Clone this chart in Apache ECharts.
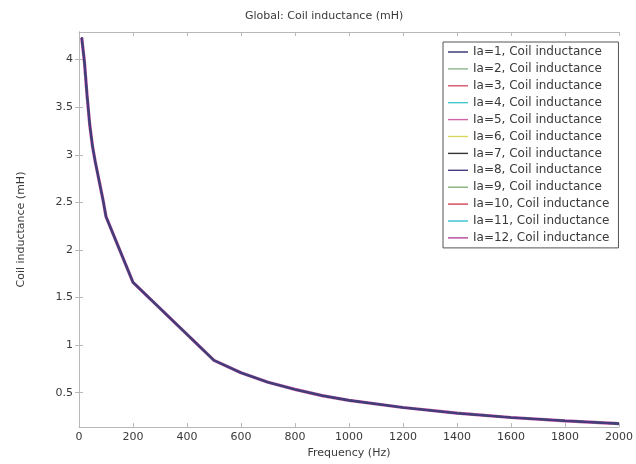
<!DOCTYPE html>
<html>
<head>
<meta charset="utf-8">
<script src="https://cdn.jsdelivr.net/npm/echarts@6/dist/echarts.min.js"></script>
<style>
  html, body { margin: 0; padding: 0; background: #fff; }
  #chart { width: 636px; height: 464px; }
</style>
</head>
<body>
<div id="chart"></div>
<script>
// Frequency sweep (Hz)
const frequency = [10, 20, 30, 40, 50, 60, 70, 80, 90, 100, 200, 500, 600, 700, 800, 900, 1000, 1200, 1400, 1600, 1800, 2000];
// Coil inductance (mH); the twelve current levels overlap on this curve
const coilInductance = [4.23, 3.98, 3.62, 3.31, 3.09, 2.93, 2.79, 2.65, 2.51, 2.35, 1.66, 0.84, 0.71, 0.61, 0.535, 0.47, 0.42, 0.345, 0.285, 0.24, 0.205, 0.175];
// Current levels
const currentLevels = [1, 2, 3, 4, 5, 6, 7, 8, 9, 10, 11, 12];
// Axis ticks
const yTicks = [0.5, 1, 1.5, 2, 2.5, 3, 3.5, 4];
const yRange = [0.139, 4.29];
const xRange = [0, 2000];
const xStep = 200;

// Line colours per current level
const lineColors = ['#2e2e6e', '#8fb48f', '#d2566a', '#48c8cc', '#d064a6', '#d8d65c',
                    '#333333', '#463a80', '#86b276', '#d24454', '#36c0d2', '#b2479a'];

const font = 'DejaVu Sans, sans-serif';
const axisGray = '#b8b8b8';
const textGray = '#3a3a3a';

const points = frequency.map((f, i) => [f, coilInductance[i]]);

const series = currentLevels.map((ia, k) => {
  let width = 1.6, z = 2;
  if (ia === 12) { width = 3.2; z = 1; }
  if (ia === 1 || ia === 7) { z = 3; }
  if (ia === 8) { width = 2; z = 4; }
  return {
    name: 'Ia=' + ia + ', Coil inductance',
    type: 'line',
    data: points,
    symbol: 'none',
    z: z,
    lineStyle: { width: width, color: lineColors[k] },
    itemStyle: { color: lineColors[k] },
    emphasis: { disabled: true },
    animation: false
  };
});

const chart = echarts.init(document.getElementById('chart'), null, { renderer: 'canvas' });
chart.setOption({
  backgroundColor: '#ffffff',
  animation: false,
  title: {
    text: 'Global: Coil inductance (mH)',
    left: 240,
    top: 6,
    textStyle: { fontFamily: font, fontSize: 11, fontWeight: 'normal', color: textGray }
  },
  legend: {
    orient: 'vertical',
    left: 443,
    top: 42,
    padding: [3, 9, 3, 5],
    icon: 'rect',
    itemWidth: 20,
    itemHeight: 1.4,
    itemGap: 2.9,
    borderColor: '#555',
    borderWidth: 1,
    backgroundColor: '#fff',
    textStyle: { fontFamily: font, fontSize: 12, lineHeight: 14, color: textGray },
    data: series.map(s => s.name)
  },
  grid: { left: 79, right: 16, top: 32, bottom: 29, containLabel: false },
  xAxis: [{
    type: 'value',
    position: 'bottom',
    min: xRange[0], max: xRange[1], interval: xStep,
    name: 'Frequency (Hz)',
    nameLocation: 'middle',
    nameGap: 16,
    nameTextStyle: { fontFamily: font, fontSize: 11, color: textGray },
    axisLine: { show: true, lineStyle: { color: axisGray } },
    axisTick: { show: true, inside: true, length: 4, lineStyle: { color: axisGray } },
    axisLabel: { fontFamily: font, fontSize: 11, color: textGray, margin: 5,
                 formatter: v => String(v) },
    splitLine: { show: false }
  }, {
    type: 'value',
    position: 'top',
    min: xRange[0], max: xRange[1], interval: xStep,
    axisLine: { show: true, lineStyle: { color: axisGray } },
    axisTick: { show: true, inside: true, length: 4, lineStyle: { color: axisGray } },
    axisLabel: { show: false },
    splitLine: { show: false }
  }],
  yAxis: [{
    type: 'value',
    position: 'left',
    min: yRange[0], max: yRange[1],
    name: 'Coil inductance (mH)',
    nameLocation: 'middle',
    nameGap: 52,
    nameTextStyle: { fontFamily: font, fontSize: 11, color: textGray },
    axisLine: { show: true, lineStyle: { color: axisGray } },
    axisTick: { show: true, inside: true, length: 4, lineStyle: { color: axisGray },
                customValues: yTicks },
    axisLabel: { fontFamily: font, fontSize: 11, color: textGray, margin: 6,
                 customValues: yTicks, formatter: v => String(v) },
    splitLine: { show: false }
  }, {
    type: 'value',
    position: 'right',
    min: yRange[0], max: yRange[1],
    axisLine: { show: true, lineStyle: { color: axisGray } },
    axisTick: { show: true, inside: true, length: 4, lineStyle: { color: axisGray },
                customValues: yTicks },
    axisLabel: { show: false },
    splitLine: { show: false }
  }],
  series: series
});
</script>
</body>
</html>
